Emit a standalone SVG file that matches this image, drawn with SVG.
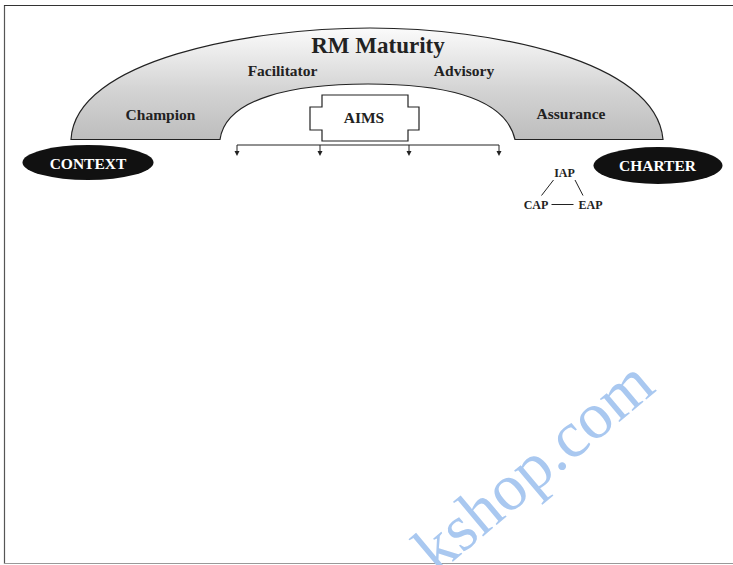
<svg xmlns="http://www.w3.org/2000/svg" width="733" height="565" viewBox="0 0 733 565">
<style>
.t{font-family:"Liberation Serif","Times New Roman",serif;font-weight:bold;text-anchor:middle;fill:#222}
.w{fill:#fff}
.ln{stroke:#222;stroke-width:1;fill:none}
</style>
<defs>
<linearGradient id="g" x1="0" y1="0" x2="0" y2="1">
<stop offset="0" stop-color="#fbfbfb"/>
<stop offset="0.55" stop-color="#d4d4d4"/>
<stop offset="1" stop-color="#bdbdbd"/>
</linearGradient>
<marker id="ah" markerWidth="6" markerHeight="6" refX="3" refY="5" orient="auto-start-reverse" markerUnits="userSpaceOnUse" viewBox="0 0 6 6">
<path d="M0.5,0 L5.5,0 L3,5 Z" fill="#222" transform="rotate(-90 3 3)"/>
</marker>
</defs>
<rect x="0" y="0" width="733" height="565" fill="#fff"/>
<g id="frame">
<line x1="4.5" y1="5" x2="4.5" y2="564" stroke="#555" stroke-width="1.2"/>
<line x1="4" y1="5.5" x2="733" y2="5.5" stroke="#333" stroke-width="1.2"/>
<line x1="4" y1="563.5" x2="733" y2="563.5" stroke="#999" stroke-width="1.2"/>
</g>
<g id="arch">
<path d="M71,139.5 C75,60 250,28 370,28 C490,28 656,60 663,139.5 L515,139.5 C505,96 440,84 368,84 C296,84 226,97 220,139.5 Z" fill="url(#g)" stroke="#222" stroke-width="1.2"/>
<text class="t" x="378" y="53" font-size="23">RM Maturity</text>
<text class="t" x="282.5" y="76" font-size="15.5">Facilitator</text>
<text class="t" x="464" y="76" font-size="15.5">Advisory</text>
<text class="t" x="160.5" y="119.5" font-size="15.5">Champion</text>
<text class="t" x="571" y="119" font-size="15.5">Assurance</text>
</g>
<g id="aims">
<polygon points="322,95 408,95 408,107 419,107 419,130 408,130 408,141 322,141 322,130 310,130 310,107 322,107" fill="#fff" stroke="#222" stroke-width="1.2"/>
<text class="t" x="364" y="123" font-size="15.5">AIMS</text>
</g>
<g id="context">
<ellipse cx="88" cy="162.5" rx="65.5" ry="17.5" fill="#111"/>
<text class="t w" x="88" y="168.5" font-size="15.5">CONTEXT</text>
</g>
<g id="charter">
<ellipse cx="658" cy="165.5" rx="64.5" ry="18.5" fill="#111"/>
<text class="t w" x="657.5" y="170.5" font-size="15.5">CHARTER</text>
</g>
<g id="iap"><text class="t" x="564.5" y="177" font-size="12">IAP</text></g>
<g id="cap"><text class="t" x="536" y="208.5" font-size="12">CAP</text></g>
<g id="eap"><text class="t" x="590.5" y="208.5" font-size="12">EAP</text></g>
<g id="connectors">
<polyline class="ln" points="237,154 237,145 499,145 499,154"/>
<line class="ln" x1="320" y1="145" x2="320" y2="154"/>
<line class="ln" x1="409" y1="145" x2="409" y2="154"/>
<path d="M234.5,151 L239.5,151 L237,156 Z M317.5,151 L322.5,151 L320,156 Z M406.5,151 L411.5,151 L409,156 Z M496.5,151 L501.5,151 L499,156 Z" fill="#222"/>
<line class="ln" x1="553.5" y1="180" x2="541.5" y2="195.5"/>
<line class="ln" x1="575" y1="180" x2="583" y2="195.5"/>
<line class="ln" x1="551.5" y1="204.5" x2="573.5" y2="204.5"/>
</g>
<text x="437" y="575" transform="rotate(-40 437 575)" font-family="Liberation Serif, serif" font-size="66" fill="#a9c8f0">kshop.com</text>
</svg>
